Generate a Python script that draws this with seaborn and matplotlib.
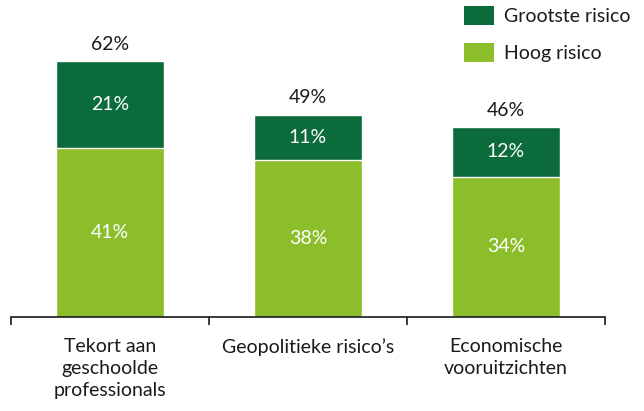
import matplotlib
matplotlib.use("Agg")
import matplotlib.pyplot as plt
import seaborn as sns
import pandas as pd
from matplotlib.patches import Patch

categories = ["Tekort aan\ngeschoolde\nprofessionals", "Geopolitieke risico’s", "Economische\nvooruitzichten"]
hoog_risico = [41, 38, 34]
grootste_risico = [21, 11, 12]
totals = [62, 49, 46]

DARK = "#0B6B3B"
LIGHT = "#8CBD2B"
TXT = "#1a1a1a"

sns.set_theme(style="white")
plt.rcParams["font.family"] = ["Lato", "DejaVu Sans"]

df = pd.DataFrame({"cat": categories, "hoog": hoog_risico, "grootste": grootste_risico,
                   "total": [h + g for h, g in zip(hoog_risico, grootste_risico)]})

fig = plt.figure(figsize=(6.44, 4.11), dpi=100)
ax = fig.add_axes([11/644, 1 - 317/411, (605-11)/644, 317/411])

sns.barplot(data=df, x="cat", y="total", color=DARK, width=0.545, ax=ax,
            edgecolor="white", linewidth=1.0, saturation=1)
sns.barplot(data=df, x="cat", y="hoog", color=LIGHT, width=0.545, ax=ax,
            edgecolor="white", linewidth=1.0, saturation=1)

FS = 14
for i, (h, g, t) in enumerate(zip(hoog_risico, grootste_risico, totals)):
    ax.text(i, h / 2, f"{h}%", ha="center", va="center", color="white", fontsize=FS)
    ax.text(i, h + g / 2, f"{g}%", ha="center", va="center", color="white", fontsize=FS)
    ax.text(i, h + g + 2.7, f"{t}%", ha="center", va="baseline", color=TXT, fontsize=FS)

ax.set_xlim(-0.5, 2.5)
ax.set_ylim(0, 317 / 4.13)
ax.set_xlabel("")
ax.set_ylabel("")
ax.set_yticks([])
for s in ["top", "right", "left"]:
    ax.spines[s].set_visible(False)
ax.spines["bottom"].set_color(TXT)
ax.spines["bottom"].set_linewidth(1.2)

ax.set_xticks(range(len(categories)))
ax.set_xticklabels(categories, fontsize=FS, color=TXT, linespacing=1.35, va="top")
ax.tick_params(axis="x", which="major", length=0, pad=15)
ax.set_xticks([-0.5, 0.5, 1.5, 2.5], minor=True)
ax.tick_params(axis="x", which="minor", length=6, width=1.2, color=TXT, direction="out", bottom=True)

handles = [Patch(facecolor=DARK, edgecolor="none", label="Grootste risico"),
           Patch(facecolor=LIGHT, edgecolor="none", label="Hoog risico")]
fig.legend(handles=handles, loc="upper left", bbox_to_anchor=(464/644, 1 - 6/411), frameon=False,
           fontsize=FS, handlelength=1.55, handleheight=1.1, handletextpad=0.5, labelspacing=0.95,
           borderpad=0, borderaxespad=0, labelcolor=TXT)

fig.savefig("out.png", dpi=100)
